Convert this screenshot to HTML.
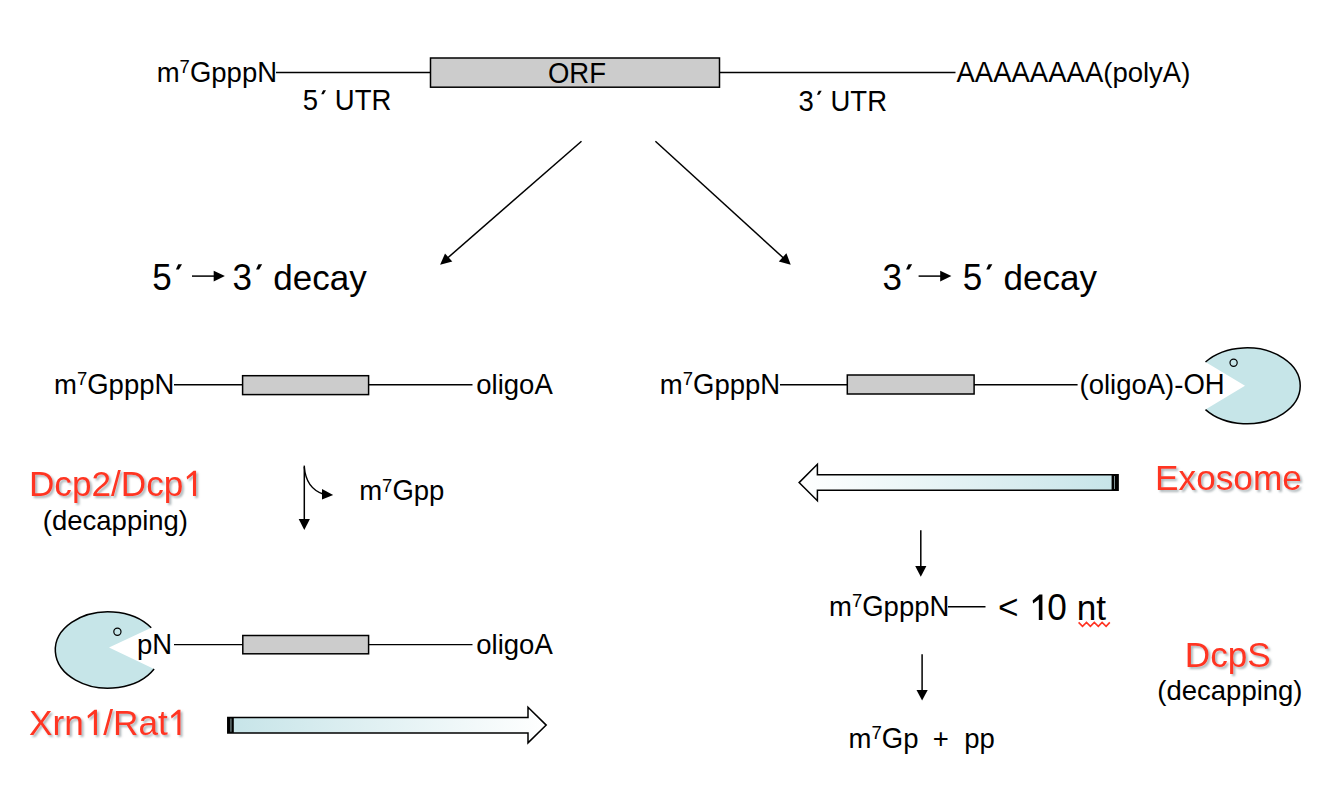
<!DOCTYPE html>
<html>
<head>
<meta charset="utf-8">
<style>
html,body{margin:0;padding:0;background:#fff;}
body{width:1323px;height:789px;overflow:hidden;}
svg{display:block;}
text{font-family:"Liberation Sans",sans-serif;fill:#000;}
.r,.r text{fill:#FF3520;}
</style>
</head>
<body>
<svg width="1323" height="789" viewBox="0 0 1323 789">
<defs>
  <linearGradient id="gR" x1="0" y1="0" x2="1" y2="0">
    <stop offset="0" stop-color="#C6E4E8"/>
    <stop offset="1" stop-color="#FFFFFF"/>
  </linearGradient>
  <linearGradient id="gL" x1="0" y1="0" x2="1" y2="0">
    <stop offset="0" stop-color="#FFFFFF"/>
    <stop offset="1" stop-color="#C6E4E8"/>
  </linearGradient>
  <filter id="sh" x="-10%" y="-20%" width="130%" height="150%">
    <feGaussianBlur in="SourceAlpha" stdDeviation="1.2"/>
    <feOffset dx="1.5" dy="2" result="b"/>
    <feFlood flood-color="#6a7a80" flood-opacity="0.55"/>
    <feComposite in2="b" operator="in"/>
    <feMerge><feMergeNode/><feMergeNode in="SourceGraphic"/></feMerge>
  </filter>
  <path id="one" d="M360,0 L272,0 L272,-598 L106,-470 L92,-548 L290,-720 L360,-720 Z"/>
  <path id="oneB" d="M364,0 L262,0 L262,-585 L100,-470 L86,-555 L282,-725 L364,-725 Z"/>
  <path id="acu" d="M118,-585 L205,-585 L292,-732 L186,-732 Z"/>
</defs>


<!-- ===== Top mRNA ===== -->
<line x1="276" y1="72.5" x2="431" y2="72.5" stroke="#000" stroke-width="1.4"/>
<rect x="430.5" y="58" width="289" height="29.2" fill="#CCCCCC" stroke="#000" stroke-width="1.5"/>
<line x1="719.5" y1="72.5" x2="955.5" y2="72.5" stroke="#000" stroke-width="1.4"/>

<!-- diagonal arrows -->
<line x1="581.5" y1="141.3" x2="447" y2="258.5" stroke="#000" stroke-width="1.5"/>
<polygon points="440.1,264.7 445,253.5 452.3,261.5" fill="#000"/>
<line x1="655.4" y1="141.3" x2="784" y2="258.5" stroke="#000" stroke-width="1.5"/>
<polygon points="790.7,264.7 786.4,253.3 778.8,261.5" fill="#000"/>

<!-- decay titles -->
<line x1="192" y1="276.1" x2="215" y2="276.1" stroke="#000" stroke-width="1.5"/>
<polygon points="224.9,276.1 213.7,270.7 213.7,281.5" fill="#000"/>

<line x1="918.6" y1="276.1" x2="942" y2="276.1" stroke="#000" stroke-width="1.5"/>
<polygon points="951.4,276.1 940.2,270.7 940.2,281.5" fill="#000"/>

<!-- ===== Mid left mRNA ===== -->
<line x1="174" y1="384.8" x2="243" y2="384.8" stroke="#000" stroke-width="1.4"/>
<rect x="242.6" y="375.7" width="126" height="18.9" fill="#CCCCCC" stroke="#000" stroke-width="1.5"/>
<line x1="368.6" y1="384.8" x2="472.5" y2="384.8" stroke="#000" stroke-width="1.4"/>

<!-- ===== Mid right mRNA ===== -->
<line x1="780" y1="384.7" x2="848" y2="384.7" stroke="#000" stroke-width="1.4"/>
<rect x="847.3" y="375" width="126.8" height="19" fill="#CCCCCC" stroke="#000" stroke-width="1.5"/>
<line x1="974" y1="384.7" x2="1077.6" y2="384.7" stroke="#000" stroke-width="1.4"/>

<!-- right pacman -->
<path d="M1205.5,362 A53.25,37.95 0 1,1 1205.5,409.6 L1245,385.8 Z" fill="#C6E5E8" stroke="none"/>
<path d="M1205.5,362 A53.25,37.95 0 1,1 1205.5,409.6" fill="none" stroke="#000" stroke-width="1.5"/>
<circle cx="1233.6" cy="362.8" r="3.6" fill="none" stroke="#000" stroke-width="1.2"/>

<!-- ===== Dcp2 / decapping ===== -->
<line x1="304.3" y1="465.6" x2="304.3" y2="520" stroke="#000" stroke-width="1.5"/>
<polygon points="298.7,519 309.9,519 304.3,530" fill="#000"/>
<path d="M304.3,467 Q306,488 323,494" fill="none" stroke="#000" stroke-width="1.4"/>
<polygon points="333.2,495 322,489 322,499.6" fill="#000"/>

<!-- ===== Exosome arrow ===== -->
<path d="M799.1,482.6 L817.4,464.2 L817.4,474.8 L1118.1,474.8 L1118.1,490.3 L817.4,490.3 L817.4,500.7 Z" fill="url(#gL)" stroke="#000" stroke-width="1.5" stroke-linejoin="miter"/>
<rect x="1111.6" y="474.8" width="6.5" height="15.5" fill="#000"/>
<line x1="1114.5" y1="476" x2="1114.5" y2="489" stroke="#9fb8bb" stroke-width="0.8"/>

<!-- ===== Right bottom ===== -->
<line x1="920.8" y1="530.3" x2="920.8" y2="567" stroke="#000" stroke-width="1.5"/>
<polygon points="915.2,566.1 926.4,566.1 920.8,576.8" fill="#000"/>
<line x1="948" y1="606.8" x2="985.5" y2="606.8" stroke="#000" stroke-width="1.4"/>
<path d="M1078.6,622.4 L1082.5,626.4 L1086.5,622.4 L1090.4,626.4 L1094.3,622.4 L1098.3,626.4 L1102.1,622.4 L1106.1,626.4 L1109.8,622.4" fill="none" stroke="#FF3322" stroke-width="1.6" stroke-linejoin="miter"/>
<line x1="922.1" y1="654.2" x2="922.1" y2="691" stroke="#000" stroke-width="1.5"/>
<polygon points="916.5,689.9 927.7,689.9 922.1,700.6" fill="#000"/>

<!-- ===== Bottom left ===== -->
<path d="M151.25,627.8 A52.9,38.2 0 1,0 154.1,669 L109,647.4 Z" fill="#C6E5E8" stroke="none"/>
<path d="M151.25,627.8 A52.9,38.2 0 1,0 154.1,669" fill="none" stroke="#000" stroke-width="1.5"/>
<circle cx="117.4" cy="631.7" r="3.6" fill="none" stroke="#000" stroke-width="1.2"/>
<line x1="174" y1="644.6" x2="243" y2="644.6" stroke="#000" stroke-width="1.4"/>
<rect x="242.8" y="635.5" width="125.8" height="18.3" fill="#CCCCCC" stroke="#000" stroke-width="1.5"/>
<line x1="368.6" y1="644.6" x2="472.5" y2="644.6" stroke="#000" stroke-width="1.4"/>

<path d="M227.8,717.4 L528,717.4 L528,707.2 L546.2,725.1 L528,742.9 L528,732.9 L227.8,732.9 Z" fill="url(#gR)" stroke="#000" stroke-width="1.5" stroke-linejoin="miter"/>
<rect x="227.8" y="717.4" width="6" height="15.5" fill="#000"/>
<line x1="230.9" y1="718.6" x2="230.9" y2="731.7" stroke="#5c6b6b" stroke-width="1.6"/>

<g><text x="156.7 211.29 226.59 241.89" y="82" font-size="27.5">mppp</text><text x="179.62" y="73.2" font-size="18.5">7</text><text transform="matrix(1 0 0 1.0450 0 -3.690)" x="189.92 257.18" y="82" font-size="27.5">GN</text></g>
<g><text transform="matrix(1 0 0 1.0450 0 -3.721)" x="547.97 569.34 589.22" y="82.7" font-size="27.5">ORF</text></g>
<g><text x="1103.23 1112.39 1127.69 1142.98 1149.09 1181.17" y="81.9" font-size="27.5">(poly)</text><text transform="matrix(1 0 0 1.0450 0 -3.685)" x="956.5 974.83 993.17 1011.52 1029.86 1048.2 1066.55 1084.89 1162.84" y="81.9" font-size="27.5">AAAAAAAAA</text></g>
<g><text transform="matrix(1 0 0 1.0600 0 -6.624)" x="302.7" y="110.4" font-size="27.5">5</text><text transform="matrix(1 0 0 1.0450 0 -4.968)" x="334.78 354.64 371.45" y="110.4" font-size="27.5">UTR</text><use href="#acu" transform="translate(317.98,110.4) scale(0.0275)"/></g>
<g><text transform="matrix(1 0 0 1.0600 0 -6.648)" x="798.4" y="110.8" font-size="27.5">3</text><text transform="matrix(1 0 0 1.0450 0 -4.986)" x="830.48 850.34 867.15" y="110.8" font-size="27.5">UTR</text><use href="#acu" transform="translate(813.68,110.8) scale(0.0275)"/></g>
<g><text transform="matrix(1 0 0 1.0600 0 -17.394)" x="152.3" y="289.9" font-size="35">5</text><use href="#acu" transform="translate(171.75,289.9) scale(0.0350)"/></g>
<g><text x="273.34 292.8 312.27 329.77 349.23" y="289.9" font-size="35">decay</text><text transform="matrix(1 0 0 1.0600 0 -17.394)" x="232.5" y="289.9" font-size="35">3</text><use href="#acu" transform="translate(251.95,289.9) scale(0.0350)"/></g>
<g><text transform="matrix(1 0 0 1.0600 0 -17.394)" x="882.5" y="289.9" font-size="35">3</text><use href="#acu" transform="translate(901.95,289.9) scale(0.0350)"/></g>
<g><text x="1003.54 1023 1042.47 1059.97 1079.43" y="289.9" font-size="35">decay</text><text transform="matrix(1 0 0 1.0600 0 -17.394)" x="962.7" y="289.9" font-size="35">5</text><use href="#acu" transform="translate(982.15,289.9) scale(0.0350)"/></g>
<g><text x="54 108.59 123.89 139.19" y="394" font-size="27.5">mppp</text><text x="76.92" y="385.4" font-size="18.5">7</text><text transform="matrix(1 0 0 1.0450 0 -17.730)" x="87.22 154.48" y="394" font-size="27.5">GN</text></g>
<g><text x="476.3 491.58 497.69 503.8 519.1" y="394" font-size="27.5">oligo</text><text transform="matrix(1 0 0 1.0450 0 -17.730)" x="534.39" y="394" font-size="27.5">A</text></g>
<g><text x="659.8 714.39 729.69 744.99" y="394" font-size="27.5">mppp</text><text x="682.72" y="385.4" font-size="18.5">7</text><text transform="matrix(1 0 0 1.0450 0 -17.730)" x="693.02 760.28" y="394" font-size="27.5">GN</text></g>
<g><text x="1079.5 1088.66 1103.94 1110.05 1116.16 1131.45 1165.09 1174.25" y="394" font-size="27.5">(oligo)-</text><text transform="matrix(1 0 0 1.0450 0 -17.730)" x="1146.75 1183.41 1204.8" y="394" font-size="27.5">AOH</text></g>
<g class="r" filter="url(#sh)"><text x="54.31 71.9 111.04 146.23 163.82" y="496" font-size="35.2">cp/cp</text><text transform="matrix(1 0 0 1.0000 0 -0.000)" x="28.9 120.81" y="496" font-size="35.2">DD</text><text transform="matrix(1 0 0 1.0200 0 -9.920)" x="91.46" y="496" font-size="35.2">2</text><use href="#one" transform="translate(183.4,496) scale(0.0352)"/></g>
<g><text x="42.8 51.96 67.24 82.53 96.28 111.58 126.88 142.18 148.28 163.58 178.86" y="529.9" font-size="27.5">(decapping)</text></g>
<g><text x="359.2 413.79 429.09" y="499.9" font-size="27.5">mpp</text><text x="382.12" y="491.6" font-size="18.5">7</text><text transform="matrix(1 0 0 1.0450 0 -22.495)" x="392.42" y="499.9" font-size="27.5">G</text></g>
<g class="r" filter="url(#sh)"><text x="1178.57 1196.16 1215.72 1233.32 1252.88 1282.19" y="490.1" font-size="35.2">xosome</text><text transform="matrix(1 0 0 1.0000 0 -0.000)" x="1155.1" y="490.1" font-size="35.2">E</text></g>
<g><text x="829 883.59 898.89 914.19" y="615.6" font-size="27.5">mppp</text><text x="851.92" y="607" font-size="18.5">7</text><text transform="matrix(1 0 0 1.0450 0 -27.702)" x="862.22 929.48" y="615.6" font-size="27.5">GN</text></g>
<g><text x="997.9" y="619.2" font-size="35.2">&lt;</text></g>
<g><text x="1076.64 1096.21" y="620" font-size="35.2">nt</text><text transform="matrix(1 0 0 1.0600 0 -37.200)" x="1047.3" y="620" font-size="35.2">0</text></g>
<g><text x="848.6 903.19" y="747.6" font-size="27.5">mp</text><text x="871.52" y="739.1" font-size="18.5">7</text><text transform="matrix(1 0 0 1.0450 0 -33.642)" x="881.82" y="747.6" font-size="27.5">G</text></g>
<g><text x="932.7" y="747.6" font-size="27.5">+</text></g>
<g><text x="964.2 979.48" y="747.6" font-size="27.5">pp</text></g>
<g class="r" filter="url(#sh)"><text x="1210.21 1227.8" y="666.6" font-size="35.2">cp</text><text transform="matrix(1 0 0 1.0000 0 -0.000)" x="1184.8 1247.36" y="666.6" font-size="35.2">DS</text></g>
<g><text x="1157.3 1166.46 1181.74 1197.03 1210.78 1226.08 1241.38 1256.67 1262.78 1278.08 1293.36" y="700" font-size="27.5">(decapping)</text></g>
<g><text x="137" y="653.8" font-size="27.5">p</text><text transform="matrix(1 0 0 1.0450 0 -29.421)" x="152.28" y="653.8" font-size="27.5">N</text></g>
<g><text x="476.3 491.58 497.69 503.8 519.1" y="653.7" font-size="27.5">oligo</text><text transform="matrix(1 0 0 1.0450 0 -29.416)" x="534.39" y="653.7" font-size="27.5">A</text></g>
<g class="r" filter="url(#sh)"><text x="52.47 64.19 103.31 138.5 158.08" y="735" font-size="35.2">rn/at</text><text transform="matrix(1 0 0 1.0000 0 -0.000)" x="29 113.09" y="735" font-size="35.2">XR</text><use href="#one" transform="translate(84.3,735) scale(0.0352)"/><use href="#one" transform="translate(167.8,735) scale(0.0352)"/></g>
<use href="#oneB" transform="translate(1029.6,620) scale(0.0352)"/>
</svg>
</body>
</html>
